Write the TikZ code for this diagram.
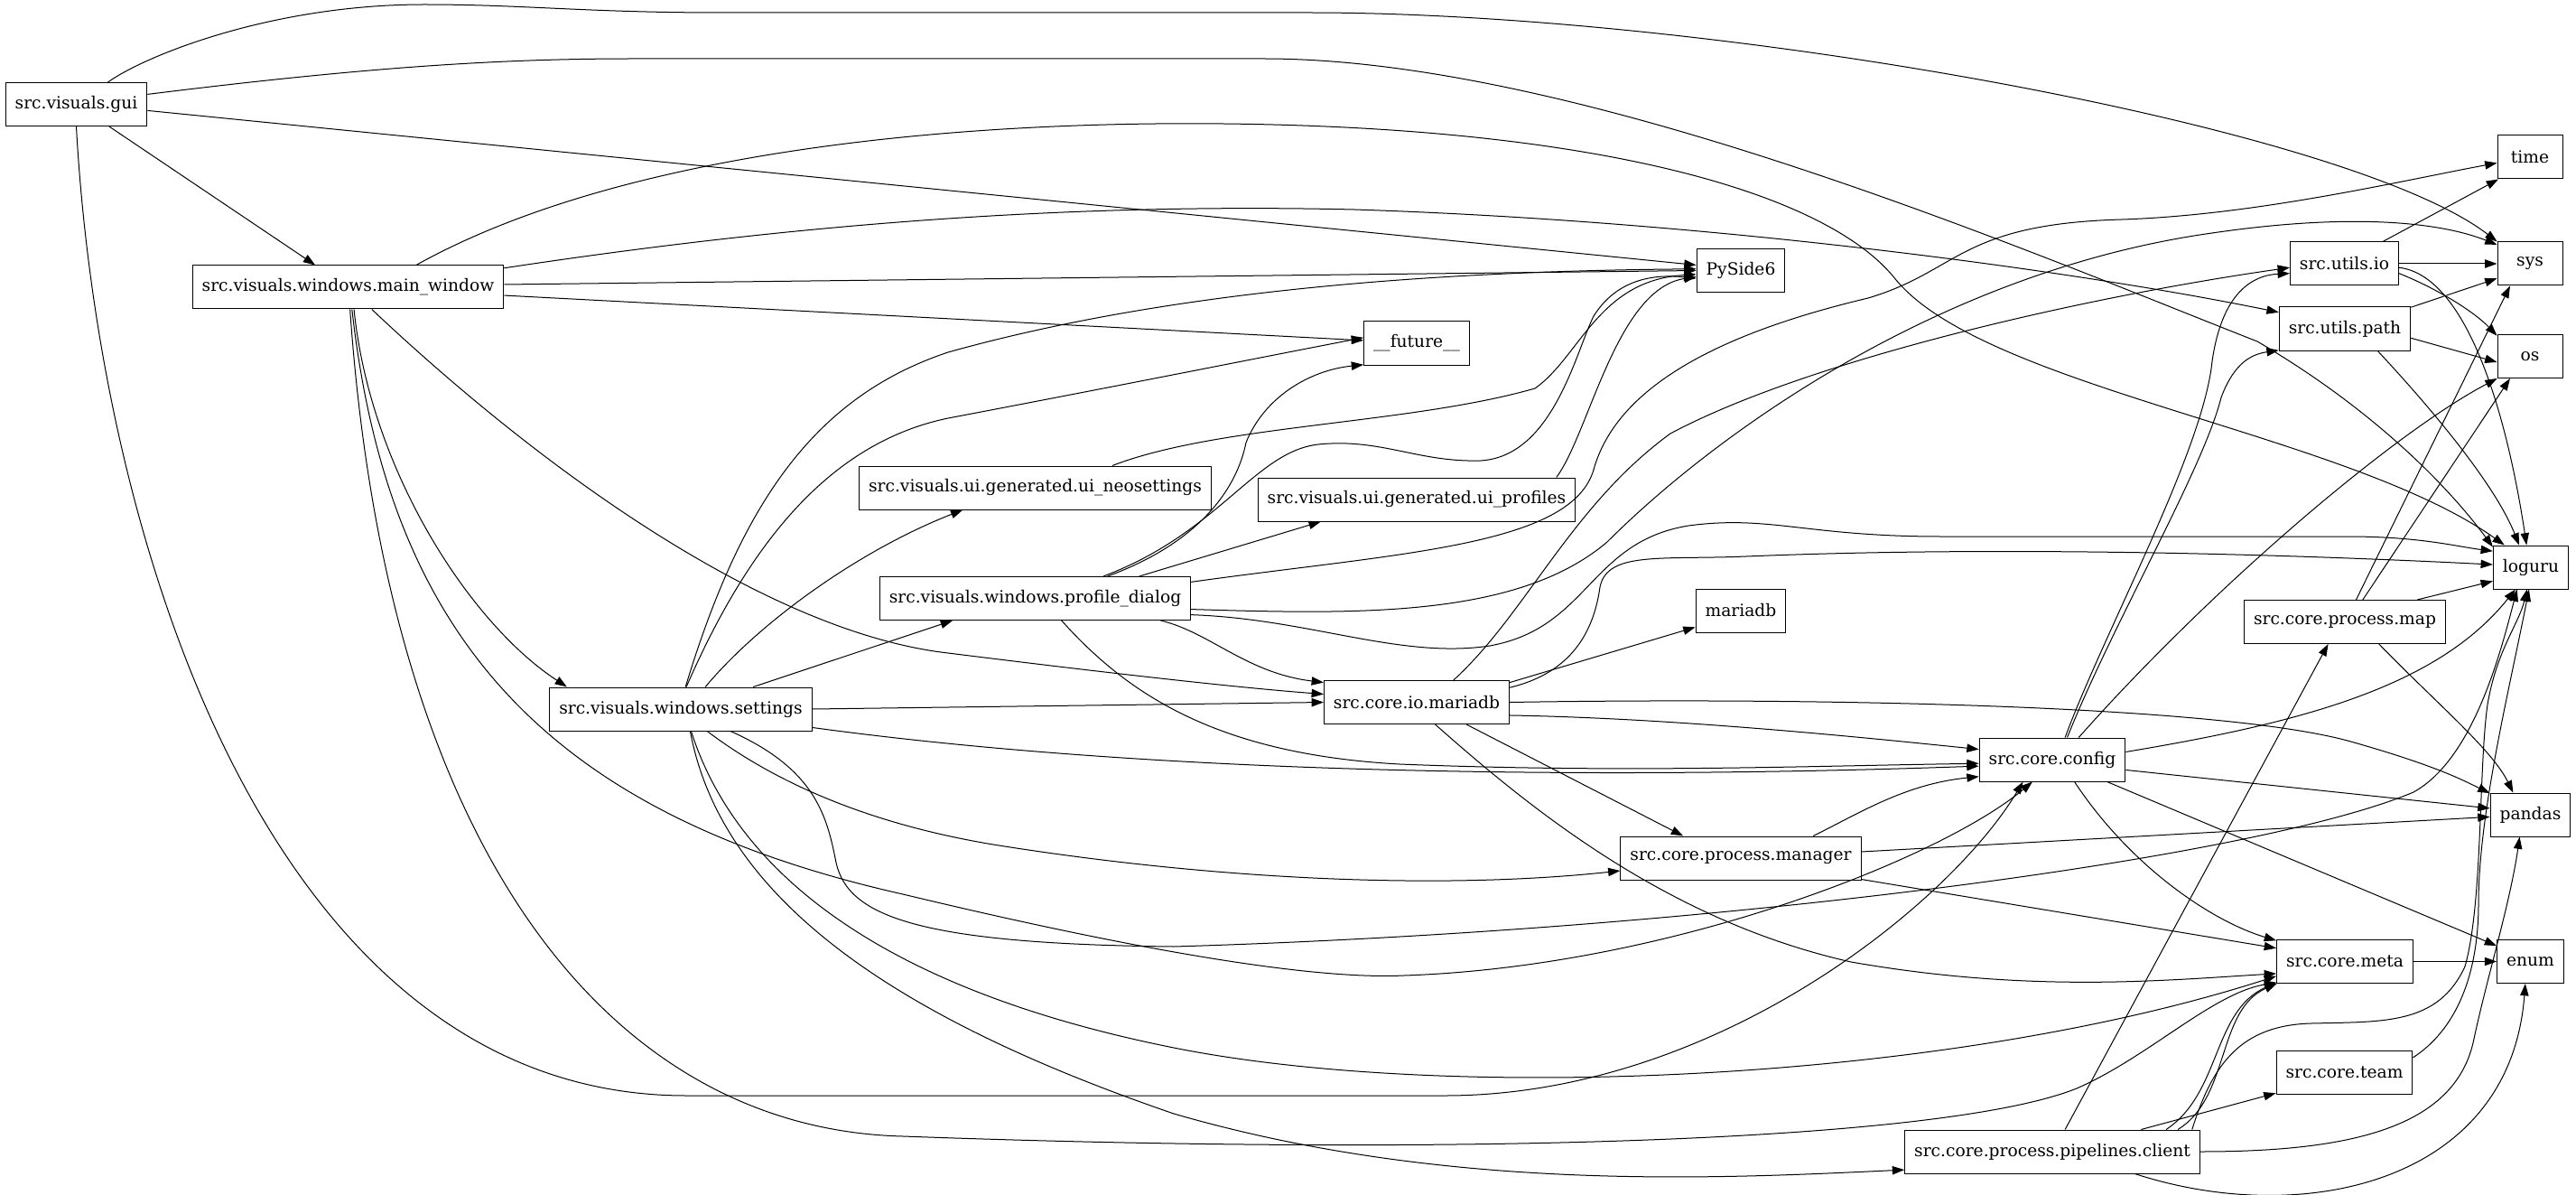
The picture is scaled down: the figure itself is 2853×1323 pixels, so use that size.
\documentclass[tikz,border=0pt]{standalone}
\usepackage{fontspec}
\setmainfont{DejaVu Serif}
\usepackage{tikz}
\usetikzlibrary{arrows.meta}
\tikzset{
  module/.style={draw=black,line width=0.75pt,rectangle,minimum height=36pt,
                 minimum width=54pt,inner xsep=7.9pt,inner ysep=0pt,
                 font=\fontsize{14}{16}\selectfont},
  dep/.style={-{Triangle[length=10pt,width=7pt]},line width=0.75pt,draw=black}
}
\begin{document}
\begin{tikzpicture}[x=0.75pt,y=-0.75pt]
    \useasboundingbox (0,0) rectangle (2853,1323);
    \node[module] (gui) at (84.5,115.5) {src.visuals.gui};
    \node[module] (mainwin) at (385.5,318) {src.visuals.windows.main\_window};
    \node[module] (settings) at (754,785) {src.visuals.windows.settings};
    \node[module] (neoset) at (1146.5,540) {src.visuals.ui.generated.ui\_neosettings};
    \node[module] (uiprof) at (1569,553) {src.visuals.ui.generated.ui\_profiles};
    \node[module] (profdlg) at (1146.5,662.5) {src.visuals.windows.profile\_dialog};
    \node[module] (future) at (1569,380) {\_\_future\_\_};
    \node[module] (pyside) at (1928,299.5) {PySide6};
    \node[module] (iomdb) at (1569,777.5) {src.core.io.mariadb};
    \node[module] (mariadb) at (1928,676) {mariadb};
    \node[module] (config) at (2273,841) {src.core.config};
    \node[module] (manager) at (1928,950) {src.core.process.manager};
    \node[module] (client) at (2273,1275) {src.core.process.pipelines.client};
    \node[module] (utilsio) at (2596.5,292) {src.utils.io};
    \node[module] (utilspath) at (2597,364) {src.utils.path};
    \node[module] (pmap) at (2597,688.5) {src.core.process.map};
    \node[module] (meta) at (2597,1064.5) {src.core.meta};
    \node[module] (team) at (2596.5,1187) {src.core.team};
    \node[module] (time) at (2802,174) {time};
    \node[module] (sys) at (2802,292) {sys};
    \node[module] (os) at (2802,394.5) {os};
    \node[module] (loguru) at (2803,628) {loguru};
    \node[module] (pandas) at (2802.5,902) {pandas};
    \node[module] (enum) at (2802.5,1064.5) {enum};

    % src.visuals.gui
    \draw[dep] (gui) -- (mainwin);
    \draw[dep] (gui.35) .. controls (160,62) and (300,5) .. (470,5)
      .. controls (580,5) and (650,14) .. (800,14) -- (1450,14)
      .. controls (1900,14) and (2600,140) .. (sys.146);
    \draw[dep] (gui.8) .. controls (400,75) and (550,65) .. (700,65) -- (1400,65)
      .. controls (1750,65) and (2250,280) .. (2500,378)
      .. controls (2640,460) and (2720,550) .. (loguru.152);
    \draw[dep] (gui.-5) -- (pyside.173);
    \draw[dep] (gui.south) .. controls (110,600) and (300,1213) .. (760,1213) -- (1600,1213)
      .. controls (1900,1213) and (2160,1000) .. (config.-143);

    % src.visuals.windows.main_window
    \draw[dep] (mainwin.18) .. controls (700,160) and (1100,130) .. (1410,138)
      .. controls (1800,148) and (2030,220) .. (2100,310)
      .. controls (2200,430) and (2600,480) .. (loguru.140);
    \draw[dep] (mainwin.7) .. controls (900,245) and (1200,225) .. (1500,232)
      .. controls (1900,245) and (2300,300) .. (utilspath.166);
    \draw[dep] (mainwin.1) -- (pyside.west);
    \draw[dep] (mainwin.-3) -- (future.177);
    \draw[dep] (mainwin.-43) .. controls (600,520) and (850,700) .. (1050,723)
      .. controls (1250,748) and (1380,762) .. (iomdb.175);
    \draw[dep] (mainwin.-75) .. controls (410,520) and (520,690) .. (settings.169);
    \draw[dep] (mainwin.-80) .. controls (430,700) and (600,900) .. (1000,990)
      .. controls (1250,1050) and (1450,1085) .. (1555,1080)
      .. controls (1850,1070) and (2150,950) .. (config.-132);
    \draw[dep] (mainwin.-85) .. controls (430,950) and (680,1250) .. (1000,1258)
      .. controls (1600,1280) and (2150,1265) .. (2300,1205)
      .. controls (2380,1170) and (2450,1100) .. (meta.-163);

    % src.visuals.windows.settings
    \draw[dep] (settings.78) .. controls (820,560) and (900,440) .. (1050,390)
      .. controls (1300,320) and (1600,300) .. (pyside.178);
    \draw[dep] (settings.76) .. controls (830,600) and (920,490) .. (1050,463)
      .. controls (1250,425) and (1400,395) .. (future.174);
    \draw[dep] (settings.42) .. controls (840,690) and (950,610) .. (neoset.-163);
    \draw[dep] (settings.17) -- (profdlg.-165);
    \draw[dep] (settings.east) -- (iomdb.west);
    \draw[dep] (settings.-8) .. controls (1300,860) and (1800,862) .. (config.185);
    \draw[dep] (settings.-40) .. controls (850,860) and (950,910) .. (1100,935)
      .. controls (1350,975) and (1600,985) .. (manager.186);
    \draw[dep] (settings.-24) .. controls (900,850) and (915,900) .. (925,950)
      .. controls (935,1010) and (1000,1045) .. (1300,1048)
      .. controls (1900,1030) and (2500,950) .. (2673,877)
      .. controls (2740,840) and (2770,720) .. (loguru.-122);
    \draw[dep] (settings.-65) .. controls (820,980) and (1000,1100) .. (1300,1160)
      .. controls (1600,1220) and (2150,1200) .. (meta.-168);
    \draw[dep] (settings.-67) .. controls (800,1000) and (1000,1130) .. (1300,1233)
      .. controls (1600,1320) and (1900,1305) .. (client.187);

    % ui and dialogs
    \draw[dep] (neoset.16) .. controls (1350,470) and (1560,470) .. (1700,430)
      .. controls (1750,395) and (1770,310) .. (pyside.185);
    \draw[dep] (uiprof.9) .. controls (1760,480) and (1790,320) .. (pyside.188);
    \draw[dep] (profdlg.12) -- (uiprof.-167);
    \draw[dep] (profdlg.17) .. controls (1330,600) and (1370,540) .. (1380,490)
      .. controls (1400,440) and (1450,410) .. (future.-158);
    \draw[dep] (profdlg.18) .. controls (1350,590) and (1390,500) .. (1460,492)
      .. controls (1530,485) and (1570,512) .. (1640,510)
      .. controls (1720,505) and (1745,390) .. (1765,350)
      .. controls (1790,310) and (1830,303) .. (pyside.190);
    \draw[dep] (profdlg.-10) .. controls (1340,700) and (1380,745) .. (iomdb.168);
    \draw[dep] (profdlg.-40) .. controls (1250,770) and (1350,835) .. (1550,846)
      .. controls (1800,856) and (2000,848) .. (config.183);
    \draw[dep] (profdlg.6) .. controls (1550,612) and (1740,605) .. (1765,520)
      .. controls (1790,430) and (1900,370) .. (2069,330)
      .. controls (2170,300) and (2170,248) .. (2350,243)
      .. controls (2500,238) and (2660,200) .. (time.190);
    \draw[dep] (profdlg.-4) .. controls (1500,680) and (1680,685) .. (1780,600)
      .. controls (1900,480) and (2150,300) .. (2450,258)
      .. controls (2600,236) and (2700,245) .. (sys.150);
    \draw[dep] (profdlg.-6) .. controls (1450,685) and (1550,730) .. (1650,715)
      .. controls (1760,695) and (1760,600) .. (1870,582)
      .. controls (1960,570) and (2000,594) .. (2150,594) -- (2600,594)
      .. controls (2680,594) and (2720,605) .. (loguru.157);

    % src.core.io.mariadb
    \draw[dep] (iomdb.31) .. controls (1690,680) and (1740,560) .. (1850,480)
      .. controls (2000,400) and (2300,330) .. (utilsio.-176);
    \draw[dep] (iomdb.9) .. controls (1740,745) and (1765,700) .. (1772,650)
      .. controls (1780,610) and (1840,620) .. (1934,616)
      .. controls (2200,605) and (2500,612) .. (loguru.176);
    \draw[dep] (iomdb.12) -- (mariadb.200);
    \draw[dep] (iomdb.-8) .. controls (1850,795) and (2050,815) .. (config.172);
    \draw[dep] (iomdb.0) .. controls (2000,772) and (2450,780) .. (2600,820)
      .. controls (2700,848) and (2730,865) .. (pandas.152);
    \draw[dep] (iomdb.-24) -- (manager.159);
    \draw[dep] (iomdb.-50) .. controls (1700,900) and (1850,1020) .. (2050,1065)
      .. controls (2250,1100) and (2400,1085) .. (meta.-170);

    % src.core.config
    \draw[dep] (config.60) .. controls (2330,700) and (2440,500) .. (2450,400)
      .. controls (2460,330) and (2490,305) .. (utilsio.-170);
    \draw[dep] (config.56) .. controls (2340,690) and (2440,520) .. (2460,440)
      .. controls (2475,400) and (2495,392) .. (utilspath.198);
    \draw[dep] (config.40) .. controls (2450,650) and (2650,480) .. (os.-146);
    \draw[dep] (config.6) .. controls (2550,800) and (2700,760) .. (loguru.-125);
    \draw[dep] (config.-8) -- (pandas.171);
    \draw[dep] (config.-45) .. controls (2360,960) and (2450,1020) .. (meta.163);
    \draw[dep] (config.-22) -- (enum.155);

    % src.core.process.manager
    \draw[dep] (manager.17) .. controls (2060,900) and (2110,868) .. (config.193);
    \draw[dep] (manager.3) -- (pandas.183);
    \draw[dep] (manager.-10) -- (meta.169);

    % utils, map, meta, team
    \draw[dep] (utilsio.30) -- (time.-145);
    \draw[dep] (utilsio.east) -- (sys.west);
    \draw[dep] (utilsio.-10) .. controls (2700,320) and (2740,345) .. (os.148);
    \draw[dep] (utilsio.-4) .. controls (2730,305) and (2775,450) .. (loguru.101);
    \draw[dep] (utilspath.18) -- (sys.-156);
    \draw[dep] (utilspath.-8) -- (os.190);
    \draw[dep] (utilspath.-34) .. controls (2700,460) and (2765,540) .. (loguru.118);
    \draw[dep] (pmap.17) -- (loguru.200);
    \draw[dep] (pmap.63) -- (sys.-132);
    \draw[dep] (pmap.51) -- (os.-132);
    \draw[dep] (pmap.-33) .. controls (2700,780) and (2760,830) .. (pandas.128);
    \draw[dep] (meta.east) -- (enum.west);
    \draw[dep] (team.12) .. controls (2720,1140) and (2745,1080) .. (2745,1000)
      .. controls (2745,900) and (2780,760) .. (loguru.-95);

    % src.core.process.pipelines.client
    \draw[dep] (client.60) -- (pmap.-127);
    \draw[dep] (client.14) -- (team.197);
    \draw[dep] (client.11) .. controls (2460,1210) and (2450,1120) .. (meta.-163);
    \draw[dep] (client.10) .. controls (2470,1215) and (2455,1118) .. (meta.-162);
    \draw[dep] (client.9) .. controls (2450,1180) and (2480,1135) .. (2560,1133)
      .. controls (2640,1131) and (2700,1135) .. (2730,1070)
      .. controls (2750,1000) and (2745,850) .. (2755,780)
      .. controls (2765,720) and (2790,690) .. (loguru.-100);
    \draw[dep] (client.east) .. controls (2600,1275) and (2720,1250) .. (2740,1150)
      .. controls (2755,1080) and (2780,1000) .. (pandas.-116);
    \draw[dep] (client.-15) .. controls (2550,1360) and (2780,1310) .. (enum.-103);
  \end{tikzpicture}
\end{document}
